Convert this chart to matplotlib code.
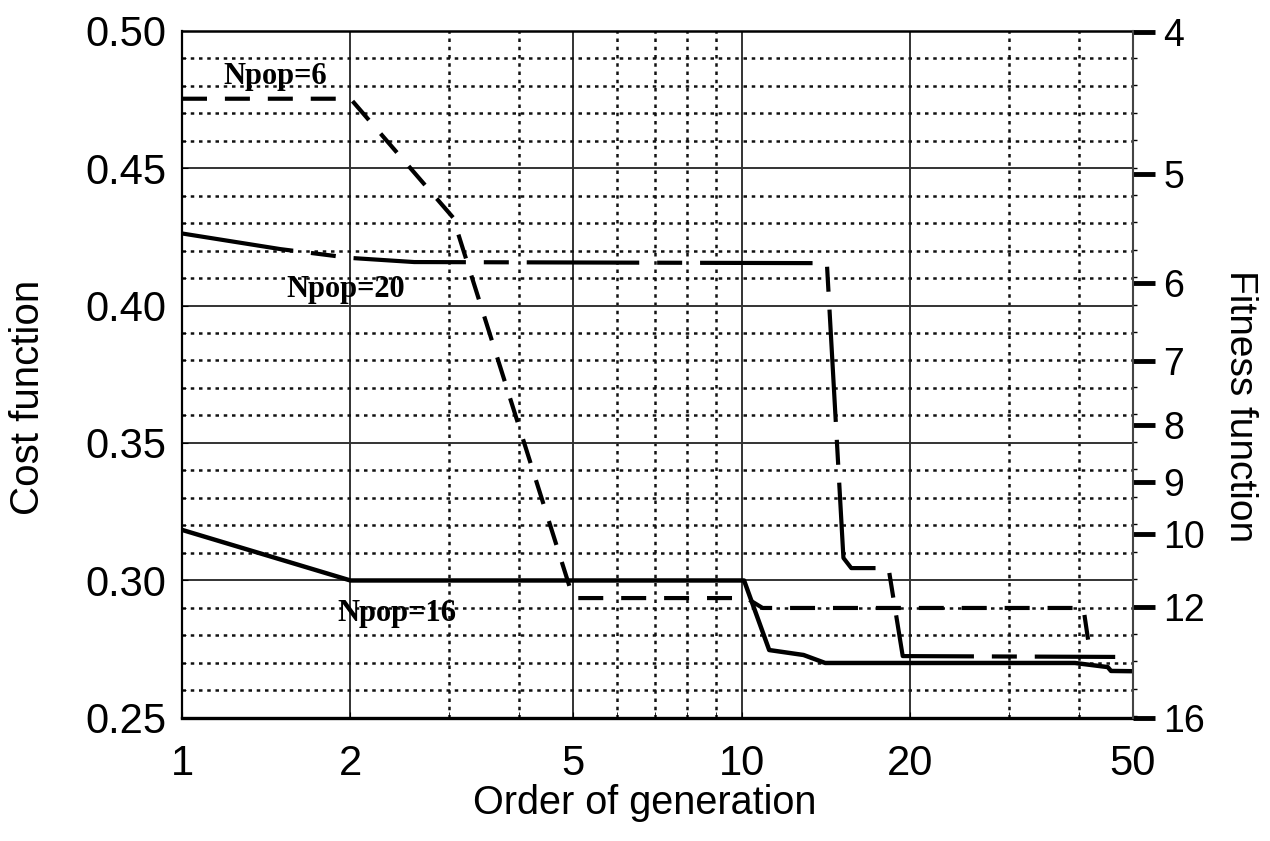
import matplotlib
matplotlib.use('Agg')
import matplotlib.pyplot as plt
from matplotlib.ticker import FixedLocator, FormatStrFormatter, NullFormatter, MultipleLocator

plt.rcParams['font.family'] = ['Liberation Sans', 'DejaVu Sans']

# Npop=6 (dashed)
gen_6 = [1, 2, 3.05, 5, 10.2, 10.9, 40.8, 41.9, 42.5]
cost_6 = [0.4752, 0.4752, 0.432, 0.2936, 0.2936, 0.290, 0.290, 0.2740, 0.2726]

# Npop=20 (long-short dashes)
gen_20 = [1, 1.5, 2, 2.6, 14.2, 15.2, 15.7, 18.3, 19.4, 46.5]
cost_20 = [0.4262, 0.4205, 0.4173, 0.4158, 0.4154, 0.3082, 0.3045, 0.3045, 0.2725, 0.2722]

# Npop=16 (solid)
gen_16 = [1, 2, 10.1, 11.2, 12.9, 14.1, 39.4, 45.1, 45.7, 50]
cost_16 = [0.3184, 0.300, 0.300, 0.2747, 0.2729, 0.2700, 0.2700, 0.2685, 0.2671, 0.2670]

# right axis: fitness labels and where they sit on the cost scale
fit_labels = ['4', '5', '6', '7', '8', '9', '10', '12', '16']
fit_at_cost = [0.4996, 0.4475, 0.4078, 0.3795, 0.3562, 0.3355, 0.3165, 0.2896, 0.2493]

x_major = [1, 2, 5, 10, 20, 50]
x_minor = [3, 4, 6, 7, 8, 9, 30, 40]

fig = plt.figure(figsize=(12.7, 8.41), dpi=100)
ax = fig.add_axes([0.1433, 0.1463, 0.7487, 0.8174])

ax.set_xscale('log')
ax.set_xlim(1, 50)
ax.set_ylim(0.25, 0.50)

ax.xaxis.set_major_locator(FixedLocator(x_major))
ax.xaxis.set_major_formatter(FormatStrFormatter('%g'))
ax.xaxis.set_minor_locator(FixedLocator(x_minor))
ax.xaxis.set_minor_formatter(NullFormatter())
ax.yaxis.set_major_locator(MultipleLocator(0.05))
ax.yaxis.set_major_formatter(FormatStrFormatter('%.2f'))
ax.yaxis.set_minor_locator(MultipleLocator(0.01))

# grid: solid majors, dotted minors
ax.set_axisbelow(True)
ax.grid(which='major', color='#333333', linewidth=1.4, linestyle='-')
ax.grid(which='minor', color='#111111', linewidth=1.8, linestyle=(0, (1.4, 1.9)))

ax.plot(gen_6, cost_6, color='black', linewidth=3, linestyle=(0, (6, 4.3)))
ax.plot(gen_20, cost_20, color='black', linewidth=3, linestyle=(0, (27, 4.3, 6, 4.3)))
ax.plot(gen_16, cost_16, color='black', linewidth=3.2, linestyle='-')

serif = ['Liberation Serif', 'DejaVu Serif']
ax.text(1.468, 0.4831, 'Npop=6', family=serif, fontweight='bold', fontsize=22, ha='center', va='center')
ax.text(1.959, 0.4060, 'Npop=20', family=serif, fontweight='bold', fontsize=22, ha='center', va='center')
ax.text(2.42, 0.2880, 'Npop=16', family=serif, fontweight='bold', fontsize=22, ha='center', va='center')

ax.tick_params(axis='x', which='major', direction='in', length=4, labelsize=30, pad=19)
ax.tick_params(axis='x', which='minor', direction='in', length=4)
ax.tick_params(axis='y', which='major', direction='in', length=4, labelsize=30, pad=11)
ax.tick_params(axis='y', which='minor', direction='in', length=3)

ax.spines['left'].set_linewidth(1.6)
ax.spines['top'].set_linewidth(1.8)
ax.spines['bottom'].set_linewidth(2.4)
ax.spines['right'].set_visible(False)

ax.set_xlabel('Order of generation', fontsize=28.5, va='center')
ax.set_ylabel('Cost function', fontsize=29, va='center')
ax.xaxis.set_label_coords(0.487, -0.123)
ax.yaxis.set_label_coords(-0.162, 0.467)

# second y-axis for the fitness function
ax2 = ax.twinx()
ax2.set_ylim(0.25, 0.50)
ax2.set_yticks(fit_at_cost)
ax2.set_yticklabels(fit_labels)
ax2.yaxis.set_minor_locator(MultipleLocator(0.01))
ax2.tick_params(axis='y', which='major', direction='out', length=16, width=3.5, labelsize=27, pad=6)
ax2.tick_params(axis='y', which='minor', direction='out', length=3, width=1)
for side in ['left', 'top', 'bottom']:
    ax2.spines[side].set_visible(False)
ax2.spines['right'].set_linewidth(1.5)
ax2.spines['right'].set_color('#444444')
ax2.set_ylabel('Fitness function', fontsize=28, rotation=270, va='center')
ax2.yaxis.set_label_coords(1.1125, 0.454)

fig.savefig('out.png', dpi=100)
